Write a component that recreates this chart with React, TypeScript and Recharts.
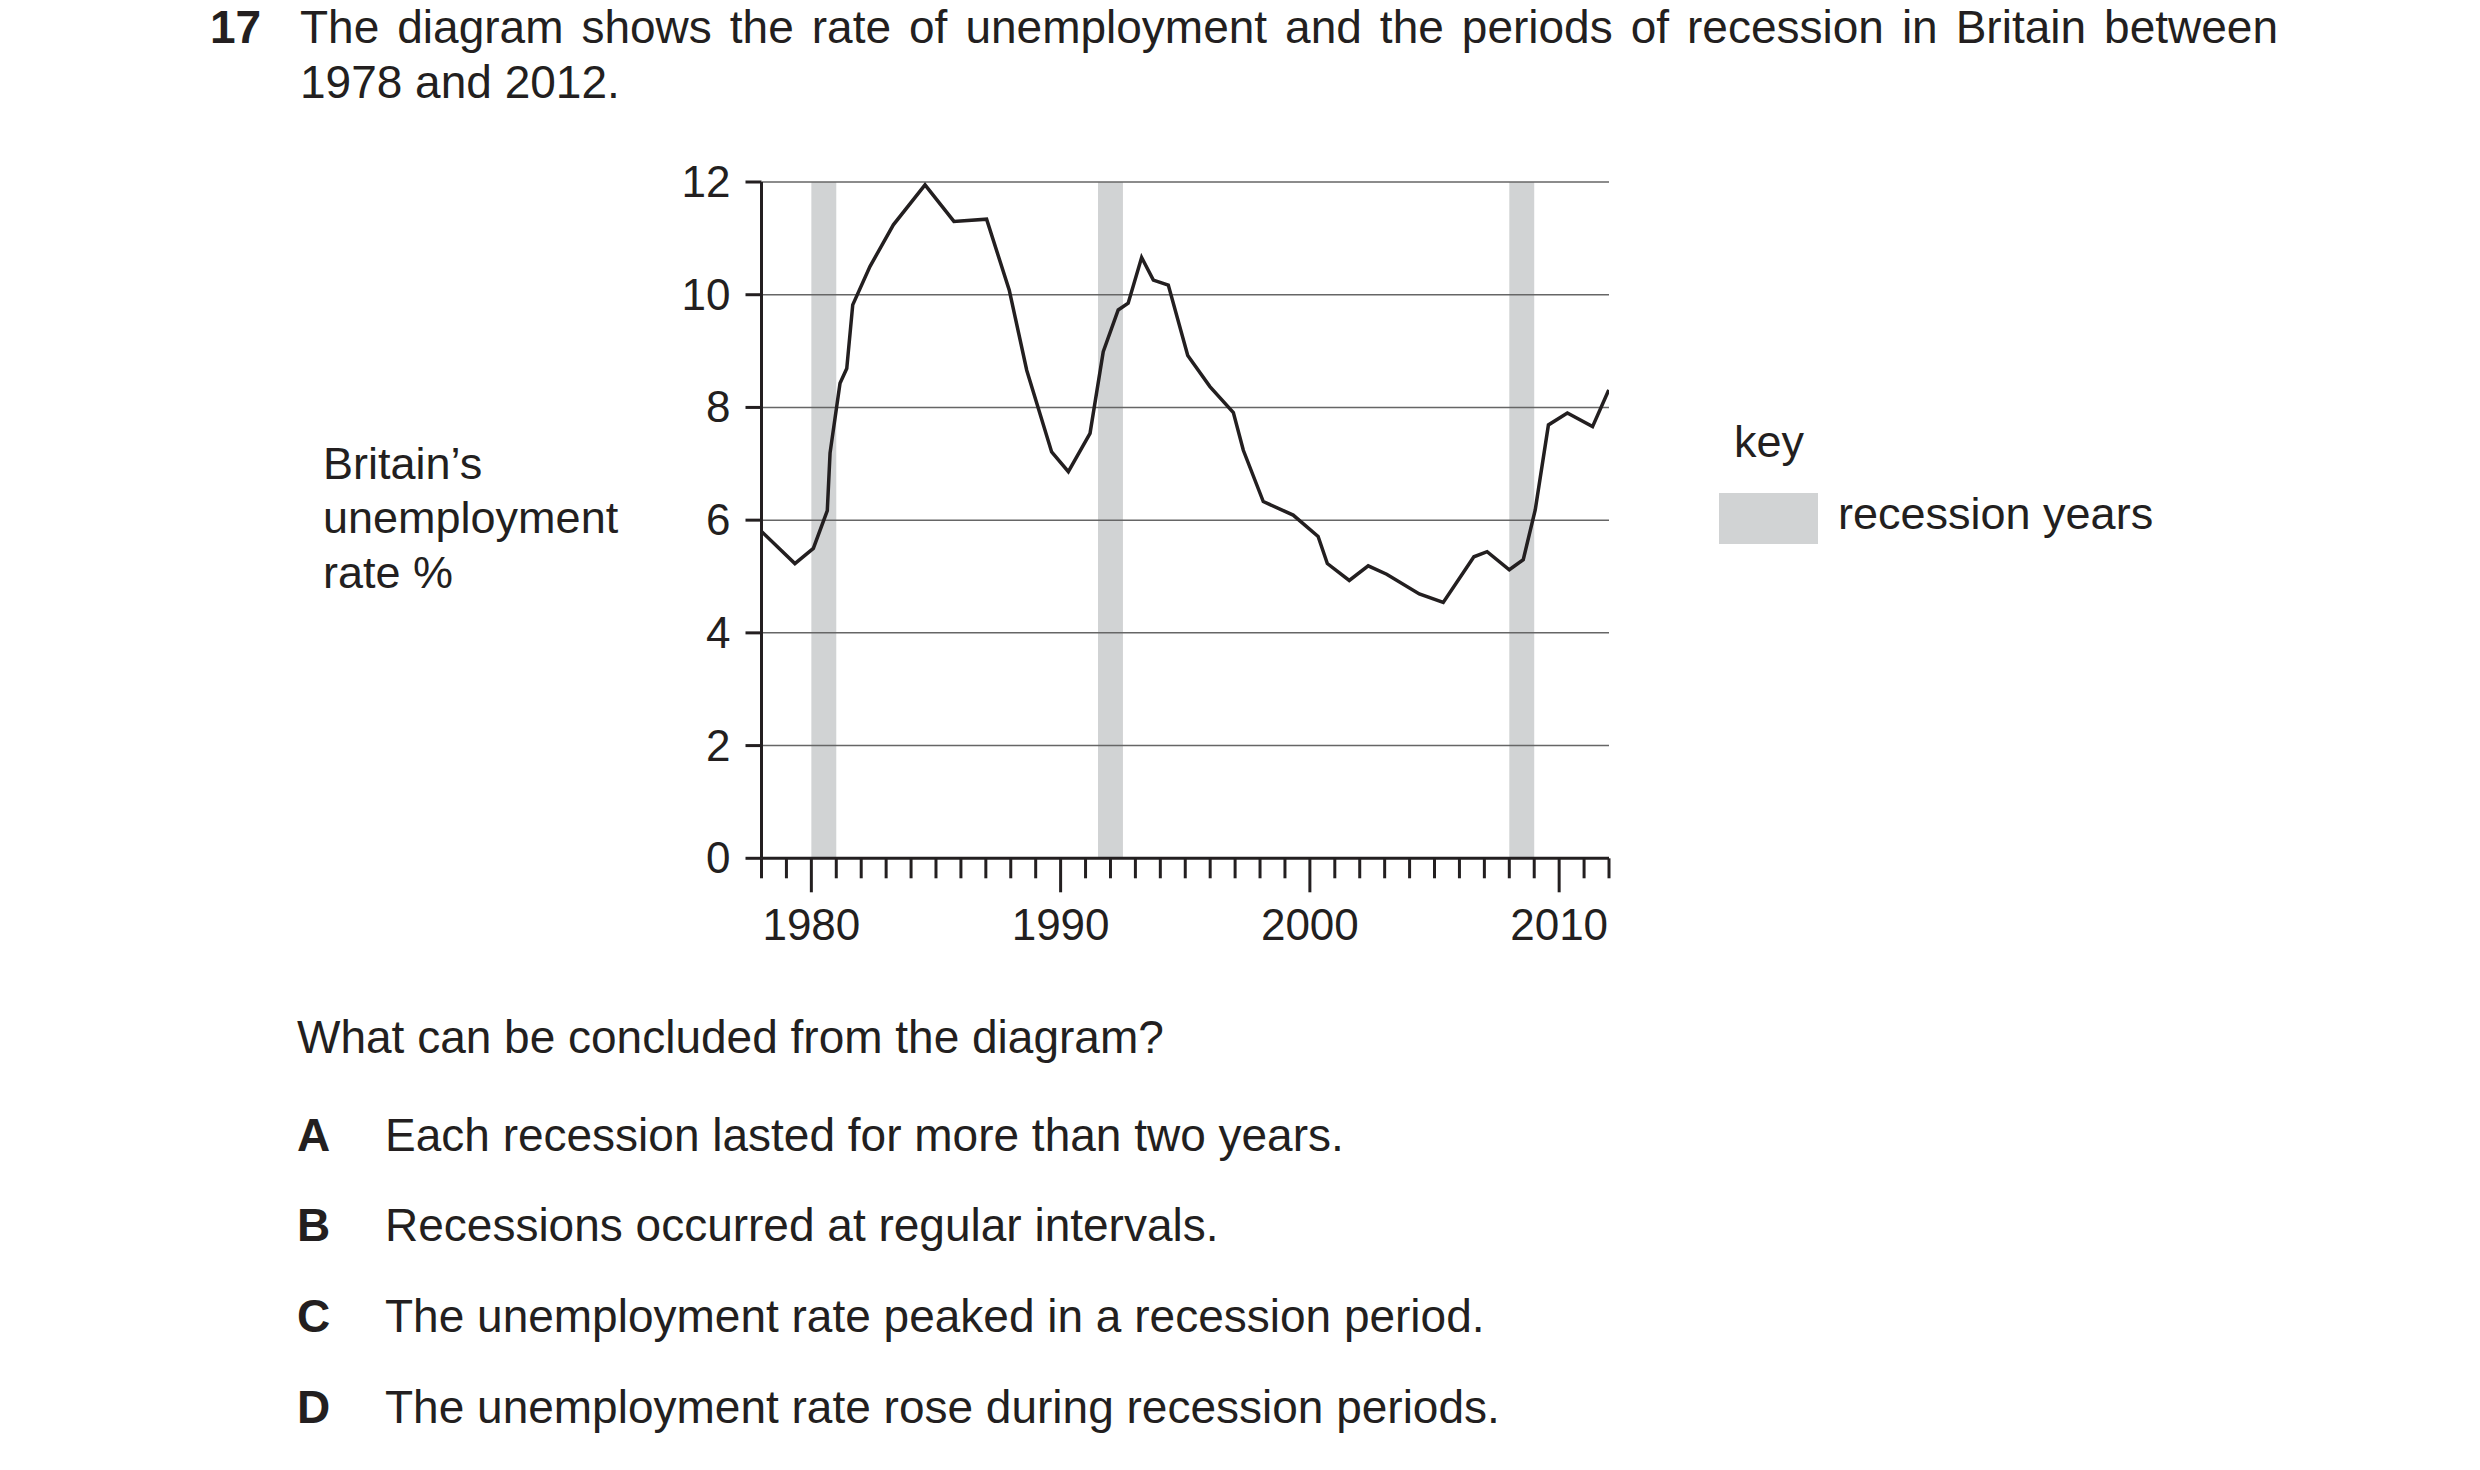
import React from 'react';
import { ComposedChart, Line, XAxis, YAxis, ReferenceArea, ReferenceLine } from 'recharts';

const years = [
  1978.0, 1979.34, 1980.08, 1980.64, 1980.75, 1981.15, 1981.42, 1981.66, 1982.35, 1983.29,
  1984.56, 1985.72, 1987.03, 1987.94, 1988.64, 1989.64, 1990.31, 1991.18, 1991.71, 1992.31,
  1992.71, 1993.25, 1993.72, 1994.32, 1995.1, 1995.99, 1996.93, 1997.33, 1998.13, 1999.33,
  2000.33, 2000.7, 2001.58, 2002.34, 2003.08, 2004.39, 2005.35, 2006.58, 2007.11, 2008.0,
  2008.56, 2009.04, 2009.57, 2010.33, 2011.34, 2011.99,
];
const rates = [
  5.8, 5.23, 5.5, 6.17, 7.19, 8.43, 8.69, 9.82, 10.5, 11.24,
  11.95, 11.3, 11.34, 10.08, 8.66, 7.21, 6.86, 7.54, 8.99, 9.73,
  9.85, 10.66, 10.26, 10.17, 8.92, 8.37, 7.91, 7.24, 6.33, 6.09,
  5.71, 5.23, 4.93, 5.19, 5.04, 4.69, 4.54, 5.35, 5.44, 5.12,
  5.3, 6.18, 7.69, 7.9, 7.66, 8.31,
];
const recessionStarts = [1980, 1991.5, 2008];
const recessionEnds = [1981, 1992.5, 2009];
const yTicks = [0, 2, 4, 6, 8, 10, 12];
const gridValues = [2, 4, 6, 8, 10, 12];
const xTicks = [
  1978, 1979, 1980, 1981, 1982, 1983, 1984, 1985, 1986, 1987, 1988, 1989,
  1990, 1991, 1992, 1993, 1994, 1995, 1996, 1997, 1998, 1999, 2000, 2001,
  2002, 2003, 2004, 2005, 2006, 2007, 2008, 2009, 2010, 2011, 2012,
];
const xLabelYears = [1980, 1990, 2000, 2010];

const data = years.map((y, i) => ({ year: y, rate: rates[i] }));

const INK = '#231f20';
const FONT = "'Liberation Sans', Arial, Helvetica, sans-serif";
const BAND = '#d1d3d4';

const XTick = (props: any) => {
  const { x, y, payload } = props;
  const v = payload.value;
  const major = xLabelYears.includes(v);
  return (
    <g>
      <line x1={x} x2={x} y1={y} y2={y + (major ? 34 : 20)} stroke={INK} strokeWidth={3} />
      {major && (
        <text x={x} y={y + 81.7} textAnchor="middle" fontFamily={FONT} fontSize={44} fill={INK}>
          {v}
        </text>
      )}
    </g>
  );
};

const YTick = (props: any) => {
  const { x, y, payload } = props;
  return (
    <g>
      <line x1={x - 16} x2={x} y1={y} y2={y} stroke={INK} strokeWidth={3} />
      <text x={x - 31} y={y + 15} textAnchor="end" fontFamily={FONT} fontSize={44} fill={INK}>
        {payload.value}
      </text>
    </g>
  );
};

const txt = (fs: number, baseline: number) => ({
  position: 'absolute' as const,
  top: baseline - 0.8465 * fs,
  fontSize: fs,
  lineHeight: `${fs}px`,
  fontFamily: FONT,
  color: INK,
  whiteSpace: 'nowrap' as const,
});

const options = [
  { letter: 'A', text: 'Each recession lasted for more than two years.', baseline: 1151 },
  { letter: 'B', text: 'Recessions occurred at regular intervals.', baseline: 1241 },
  { letter: 'C', text: 'The unemployment rate peaked in a recession period.', baseline: 1332 },
  { letter: 'D', text: 'The unemployment rate rose during recession periods.', baseline: 1423 },
];

export default function App() {
  return (
    <div style={{ position: 'absolute', left: 0, top: 0, width: 2480, height: 1470, background: '#fff', overflow: 'hidden' }}>
      <div style={{ ...txt(46, 43), left: 210, fontWeight: 'bold' }}>17</div>
      <div
        style={{
          ...txt(46, 43),
          left: 300,
          width: 1978,
          whiteSpace: 'normal',
          textAlign: 'justify',
          textAlignLast: 'justify' as any,
        }}
      >
        The diagram shows the rate of unemployment and the periods of recession in Britain between
      </div>
      <div style={{ ...txt(46, 98), left: 300 }}>1978 and 2012.</div>

      <div style={{ ...txt(45, 479), left: 323 }}>Britain’s</div>
      <div style={{ ...txt(45, 533), left: 323 }}>unemployment</div>
      <div style={{ ...txt(45, 588), left: 323 }}>rate %</div>

      <div style={{ ...txt(45, 457), left: 1734 }}>key</div>
      <div style={{ position: 'absolute', left: 1719, top: 493, width: 99, height: 51, background: BAND }} />
      <div style={{ ...txt(45, 529), left: 1838 }}>recession years</div>

      <div style={{ position: 'absolute', left: 600, top: 150 }}>
        <ComposedChart
          width={1100}
          height={850}
          data={data}
          margin={{ top: 32, right: 91, bottom: 140.7, left: 160.5 }}
        >
          <XAxis
            dataKey="year"
            type="number"
            domain={[1978, 2012]}
            ticks={xTicks}
            interval={0}
            height={1}
            tickSize={0}
            tickMargin={0}
            tickLine={false}
            tick={<XTick />}
            axisLine={{ stroke: INK, strokeWidth: 3 }}
            allowDataOverflow
          />
          <YAxis
            type="number"
            domain={[0, 12]}
            ticks={yTicks}
            interval={0}
            width={1}
            tickSize={0}
            tickMargin={0}
            tickLine={false}
            tick={<YTick />}
            axisLine={{ stroke: INK, strokeWidth: 3 }}
            allowDataOverflow
          />
          {recessionStarts.map((s, i) => (
            <ReferenceArea
              key={`band-${i}`}
              x1={s}
              x2={recessionEnds[i]}
              fill={BAND}
              fillOpacity={1}
              stroke="none"
              ifOverflow="visible"
            />
          ))}
          {gridValues.map((v) => (
            <ReferenceLine key={`grid-${v}`} y={v} stroke="#666666" strokeWidth={1.5} />
          ))}
          <Line
            type="linear"
            dataKey="rate"
            stroke={INK}
            strokeWidth={3.5}
            strokeLinejoin="miter"
            dot={false}
            activeDot={false}
            isAnimationActive={false}
          />
        </ComposedChart>
      </div>

      <div style={{ ...txt(46, 1053), left: 297 }}>What can be concluded from the diagram?</div>
      {options.map((o) => (
        <React.Fragment key={o.letter}>
          <div style={{ ...txt(46, o.baseline), left: 297, fontWeight: 'bold' }}>{o.letter}</div>
          <div style={{ ...txt(46, o.baseline), left: 385 }}>{o.text}</div>
        </React.Fragment>
      ))}
    </div>
  );
}
